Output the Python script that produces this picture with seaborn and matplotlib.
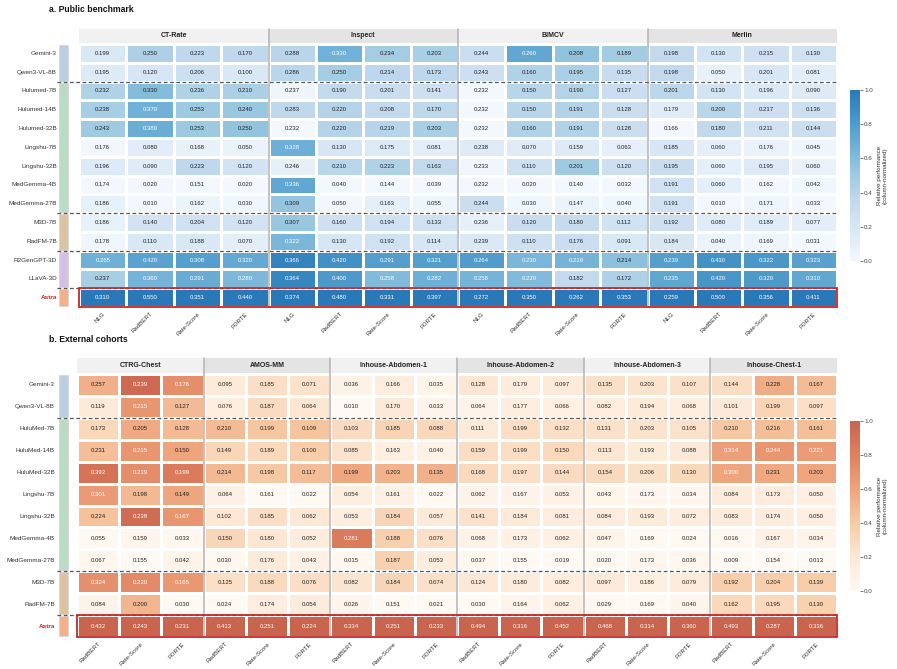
import numpy as np
import matplotlib
matplotlib.use("Agg")
import matplotlib.pyplot as plt
import seaborn as sns
from matplotlib.colors import LinearSegmentedColormap
from matplotlib.patches import Rectangle
from matplotlib import transforms

sns.set_style("white")
plt.rcParams['font.family'] = ['Liberation Sans', 'DejaVu Sans']

# ---------------- a. Public benchmark ----------------
pub_models = ["Gemini-3", "Qwen3-VL-8B", "Hulumed-7B", "Hulumed-14B", "Hulumed-32B",
              "Lingshu-7B", "Lingshu-32B", "MedGemma-4B", "MedGemma-27B",
              "M3D-7B", "RadFM-7B", "R2GenGPT-3D", "LLaVA-3D", "Astra"]
pub_datasets = ["CT-Rate", "Inspect", "BIMCV", "Merlin"]
pub_metrics = ["NLG", "RadBERT", "Rate-Score", "FORTE"]

ct_rate = [[0.199, 0.250, 0.223, 0.170], [0.195, 0.120, 0.206, 0.100],
           [0.232, 0.330, 0.236, 0.210], [0.238, 0.370, 0.253, 0.240],
           [0.243, 0.380, 0.253, 0.250], [0.176, 0.080, 0.168, 0.050],
           [0.196, 0.090, 0.223, 0.120], [0.174, 0.020, 0.151, 0.020],
           [0.186, 0.010, 0.162, 0.030], [0.186, 0.140, 0.204, 0.120],
           [0.178, 0.110, 0.188, 0.070], [0.265, 0.420, 0.308, 0.320],
           [0.237, 0.360, 0.291, 0.280], [0.310, 0.550, 0.351, 0.440]]
inspect = [[0.288, 0.330, 0.234, 0.203], [0.286, 0.250, 0.214, 0.173],
           [0.237, 0.190, 0.201, 0.141], [0.283, 0.220, 0.208, 0.170],
           [0.232, 0.220, 0.219, 0.203], [0.328, 0.130, 0.175, 0.081],
           [0.246, 0.210, 0.223, 0.163], [0.336, 0.040, 0.144, 0.039],
           [0.309, 0.050, 0.163, 0.055], [0.307, 0.160, 0.194, 0.133],
           [0.322, 0.130, 0.192, 0.114], [0.366, 0.420, 0.291, 0.321],
           [0.364, 0.400, 0.258, 0.282], [0.374, 0.480, 0.331, 0.397]]
bimcv = [[0.244, 0.260, 0.208, 0.189], [0.243, 0.160, 0.195, 0.135],
         [0.232, 0.150, 0.190, 0.127], [0.232, 0.150, 0.191, 0.128],
         [0.232, 0.160, 0.191, 0.128], [0.238, 0.070, 0.159, 0.063],
         [0.233, 0.110, 0.201, 0.120], [0.232, 0.020, 0.140, 0.032],
         [0.244, 0.030, 0.147, 0.040], [0.236, 0.120, 0.180, 0.112],
         [0.239, 0.110, 0.176, 0.091], [0.264, 0.230, 0.219, 0.214],
         [0.258, 0.220, 0.182, 0.172], [0.272, 0.350, 0.262, 0.353]]
merlin = [[0.198, 0.130, 0.215, 0.130], [0.198, 0.050, 0.201, 0.081],
          [0.201, 0.130, 0.196, 0.090], [0.179, 0.200, 0.217, 0.136],
          [0.166, 0.180, 0.211, 0.144], [0.185, 0.060, 0.176, 0.045],
          [0.195, 0.060, 0.195, 0.060], [0.191, 0.060, 0.162, 0.042],
          [0.191, 0.010, 0.171, 0.033], [0.192, 0.080, 0.189, 0.077],
          [0.184, 0.040, 0.169, 0.031], [0.239, 0.430, 0.322, 0.323],
          [0.235, 0.420, 0.320, 0.310], [0.259, 0.500, 0.356, 0.411]]

# ---------------- b. External cohorts ----------------
ext_models = ["Gemini-3", "Qwen3-VL-8B", "HuluMed-7B", "HuluMed-14B", "HuluMed-32B",
              "Lingshu-7B", "Lingshu-32B", "MedGemma-4B", "MedGemma-27B",
              "M3D-7B", "RadFM-7B", "Astra"]
ext_datasets = ["CTRG-Chest", "AMOS-MM", "Inhouse-Abdomen-1", "Inhouse-Abdomen-2",
                "Inhouse-Abdomen-3", "Inhouse-Chest-1"]
ext_metrics = ["RadBERT", "Rate-Score", "FORTE"]

ctrg_chest = [[0.257, 0.239, 0.176], [0.119, 0.215, 0.127], [0.173, 0.205, 0.128],
              [0.231, 0.215, 0.150], [0.392, 0.219, 0.199], [0.301, 0.198, 0.149],
              [0.224, 0.238, 0.167], [0.055, 0.159, 0.033], [0.067, 0.155, 0.042],
              [0.324, 0.220, 0.165], [0.084, 0.200, 0.030], [0.432, 0.243, 0.231]]
amos_mm = [[0.095, 0.185, 0.071], [0.076, 0.187, 0.064], [0.210, 0.199, 0.109],
           [0.149, 0.189, 0.100], [0.214, 0.198, 0.117], [0.064, 0.161, 0.022],
           [0.102, 0.185, 0.062], [0.150, 0.180, 0.052], [0.030, 0.176, 0.043],
           [0.125, 0.188, 0.076], [0.024, 0.174, 0.054], [0.413, 0.251, 0.224]]
abdomen_1 = [[0.036, 0.166, 0.035], [0.010, 0.170, 0.033], [0.103, 0.185, 0.088],
             [0.085, 0.163, 0.040], [0.199, 0.203, 0.135], [0.054, 0.161, 0.022],
             [0.053, 0.184, 0.057], [0.281, 0.188, 0.076], [0.015, 0.187, 0.053],
             [0.082, 0.184, 0.074], [0.026, 0.151, 0.021], [0.334, 0.251, 0.233]]
abdomen_2 = [[0.128, 0.179, 0.097], [0.064, 0.177, 0.066], [0.111, 0.199, 0.132],
             [0.159, 0.199, 0.150], [0.168, 0.197, 0.144], [0.062, 0.167, 0.053],
             [0.141, 0.184, 0.081], [0.068, 0.173, 0.062], [0.037, 0.155, 0.019],
             [0.124, 0.180, 0.082], [0.030, 0.164, 0.062], [0.494, 0.316, 0.452]]
abdomen_3 = [[0.135, 0.203, 0.107], [0.082, 0.194, 0.068], [0.131, 0.203, 0.105],
             [0.113, 0.193, 0.088], [0.154, 0.206, 0.130], [0.043, 0.173, 0.034],
             [0.084, 0.193, 0.072], [0.047, 0.169, 0.024], [0.020, 0.173, 0.036],
             [0.097, 0.186, 0.079], [0.029, 0.169, 0.040], [0.468, 0.314, 0.360]]
chest_1 = [[0.144, 0.228, 0.167], [0.101, 0.199, 0.097], [0.210, 0.216, 0.161],
           [0.314, 0.244, 0.221], [0.300, 0.231, 0.203], [0.084, 0.173, 0.050],
           [0.083, 0.174, 0.050], [0.016, 0.167, 0.034], [0.009, 0.154, 0.013],
           [0.192, 0.204, 0.139], [0.162, 0.195, 0.130], [0.493, 0.287, 0.336]]

# model family strips: (start, end, colour)
pub_groups = [(0, 2, "#bccfe2"), (2, 9, "#b9dcc3"), (9, 11, "#dcc4a3"),
              (11, 13, "#d3c0e3"), (13, 14, "#f3b089")]
ext_groups = [(0, 2, "#bccfe2"), (2, 9, "#b9dcc3"), (9, 11, "#dcc4a3"),
              (11, 12, "#f3b089")]

blue_cmap = LinearSegmentedColormap.from_list(
    "blues_t", plt.cm.Blues(np.linspace(0.02, 0.72, 256)))
orange_cmap = LinearSegmentedColormap.from_list(
    "peach", ["#fff9f3", "#fde8d5", "#f7cba6", "#eea47c", "#df8160", "#c9644f"])


def draw_panel(ax, cax, blocks, models, datasets, metrics, cmap, groups,
               label_pad, hdr_top, hdr_h, strip_x, strip_w):
    vals = np.hstack([np.array(b) for b in blocks])
    nr, nc = vals.shape
    nm = len(metrics)
    lo, hi = vals.min(axis=0), vals.max(axis=0)
    norm = (vals - lo) / (hi - lo)
    annot = np.array([[f"{v:.3f}" for v in row] for row in vals])

    sns.heatmap(norm, ax=ax, cmap=cmap, vmin=0, vmax=1, annot=annot, fmt="",
                annot_kws={"fontsize": 4.3}, linewidths=0.9, linecolor="white",
                cbar_ax=cax, xticklabels=metrics * len(datasets), yticklabels=models)

    for t, n in zip(ax.texts, norm.flat):
        t.set_color("white" if n > 0.6 else "#222222")

    ax.tick_params(axis="y", length=0, pad=label_pad, labelsize=4.6, labelcolor="#333333")
    ax.tick_params(axis="x", length=2, width=0.5, pad=1, labelsize=4.4,
                   labelcolor="#333333", color="#555555")
    for lab in ax.get_yticklabels():
        lab.set_rotation(0)
    for lab in ax.get_xticklabels():
        lab.set_rotation(45)
        lab.set_ha("right")
        lab.set_rotation_mode("anchor")
    astra = ax.get_yticklabels()[-1]
    astra.set_color("#c62828")
    astra.set_fontweight("bold")

    # dataset header boxes
    for i, name in enumerate(datasets):
        fc = "#f1f1f1" if i % 2 == 0 else "#e4e4e4"
        ax.add_patch(Rectangle((i * nm, -hdr_top), nm, hdr_h, fc=fc, ec="none",
                               clip_on=False))
        ax.text(i * nm + nm / 2, -hdr_top + hdr_h / 2, name, ha="center", va="center",
                fontsize=5, fontweight="bold", color="#222222")

    # dataset separators
    for k in range(1, len(datasets)):
        ax.plot([k * nm, k * nm], [-hdr_top, nr], color="#b3b3b3", lw=1.1,
                clip_on=False, zorder=4)

    # family strips and dashed separators
    trans = transforms.blended_transform_factory(ax.transAxes, ax.transData)
    for s, e, c in groups:
        ax.add_patch(Rectangle((strip_x, s + 0.05), strip_w, e - s - 0.1, fc=c,
                               ec="#d8d8d8", lw=0.6, transform=trans, clip_on=False))
    for s, e, c in groups[1:]:
        ax.plot([strip_x - 0.002, 1.0], [s, s], transform=trans, color="#555555",
                lw=0.9, ls=(0, (3, 2)), clip_on=False, zorder=5)

    # highlight Astra row
    ax.add_patch(Rectangle((0, nr - 1), nc, 1, fill=False, ec="#c62828", lw=1.3,
                           clip_on=False, zorder=6))

    cbar = ax.collections[0].colorbar
    cbar.outline.set_visible(False)
    cbar.set_ticks([0, 0.2, 0.4, 0.6, 0.8, 1.0])
    cbar.ax.tick_params(labelsize=4.5, length=2, width=0.5, pad=1, colors="#444444")
    cbar.set_label("Relative performance\n(column-normalized)", fontsize=4.5,
                   color="#333333", labelpad=3)


fig = plt.figure(figsize=(8.97, 6.69), dpi=100)
W, H = 897, 669

ax_a = fig.add_axes([79 / W, 1 - 307 / H, 758 / W, 263 / H])
cax_a = fig.add_axes([850 / W, 1 - 261 / H, 10 / W, 171 / H])
draw_panel(ax_a, cax_a, [ct_rate, inspect, bimcv, merlin], pub_models, pub_datasets,
           pub_metrics, blue_cmap, pub_groups, label_pad=16,
           hdr_top=0.8, hdr_h=0.74, strip_x=-0.0264, strip_w=0.0119)

ax_b = fig.add_axes([77 / W, 1 - 637 / H, 760 / W, 263 / H])
cax_b = fig.add_axes([850 / W, 1 - 591 / H, 10 / W, 170 / H])
draw_panel(ax_b, cax_b, [ctrg_chest, amos_mm, abdomen_1, abdomen_2, abdomen_3, chest_1],
           ext_models, ext_datasets, ext_metrics, orange_cmap, ext_groups, label_pad=16,
           hdr_top=0.72, hdr_h=0.67, strip_x=-0.0237, strip_w=0.0118)

fig.text(49 / W, 1 - 10 / H, "a. Public benchmark", fontsize=6.2, fontweight="bold",
         va="center", color="#111111")
fig.text(49 / W, 1 - 340 / H, "b. External cohorts", fontsize=6.2, fontweight="bold",
         va="center", color="#111111")

fig.savefig("out.png", dpi=100)
